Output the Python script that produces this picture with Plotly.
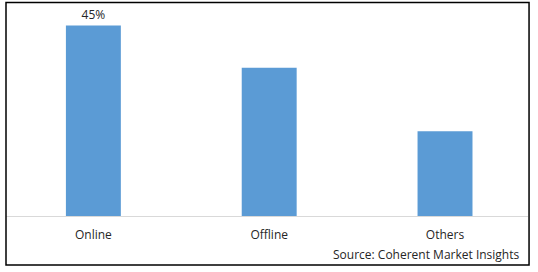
import plotly.graph_objects as go

categories = ["Online", "Offline", "Others"]
values = [45, 35, 20]
labels = ["45%", "", ""]
source_text = "Source: Coherent Market Insights"

FONT = "Open Sans, Liberation Sans, Arial"

fig = go.Figure(
    go.Bar(
        x=categories,
        y=values,
        text=labels,
        textposition="outside",
        cliponaxis=False,
        width=0.3125,
        marker=dict(color="#5B9BD5", line=dict(width=0)),
        textfont=dict(family=FONT, size=12, color="#262626"),
        hoverinfo="skip",
    )
)

fig.update_layout(
    width=538,
    height=272,
    margin=dict(l=6, r=10, t=5, b=56),
    paper_bgcolor="white",
    plot_bgcolor="white",
    showlegend=False,
    font=dict(family=FONT, size=12, color="#262626"),
    xaxis=dict(
        range=[-0.497, 2.472],
        showline=True,
        linecolor="#d9d9d9",
        linewidth=1,
        showgrid=False,
        zeroline=False,
        ticks="outside",
        ticklen=8,
        tickcolor="rgba(0,0,0,0)",
        tickfont=dict(family=FONT, size=12, color="#262626"),
    ),
    yaxis=dict(
        range=[0, 49.85],
        visible=False,
        showgrid=False,
        zeroline=False,
    ),
    shapes=[
        dict(
            type="rect",
            xref="paper",
            yref="paper",
            x0=0.0,
            x1=1.002,
            y0=-0.232,
            y1=1.012,
            line=dict(color="black", width=1.5),
            fillcolor="rgba(0,0,0,0)",
            layer="above",
        )
    ],
    annotations=[
        dict(
            text=source_text,
            xref="paper",
            yref="paper",
            x=0.9885,
            y=-0.182,
            xanchor="right",
            yanchor="middle",
            showarrow=False,
            font=dict(family=FONT, size=12, color="#262626"),
        )
    ],
)

fig.write_html("out.html")
